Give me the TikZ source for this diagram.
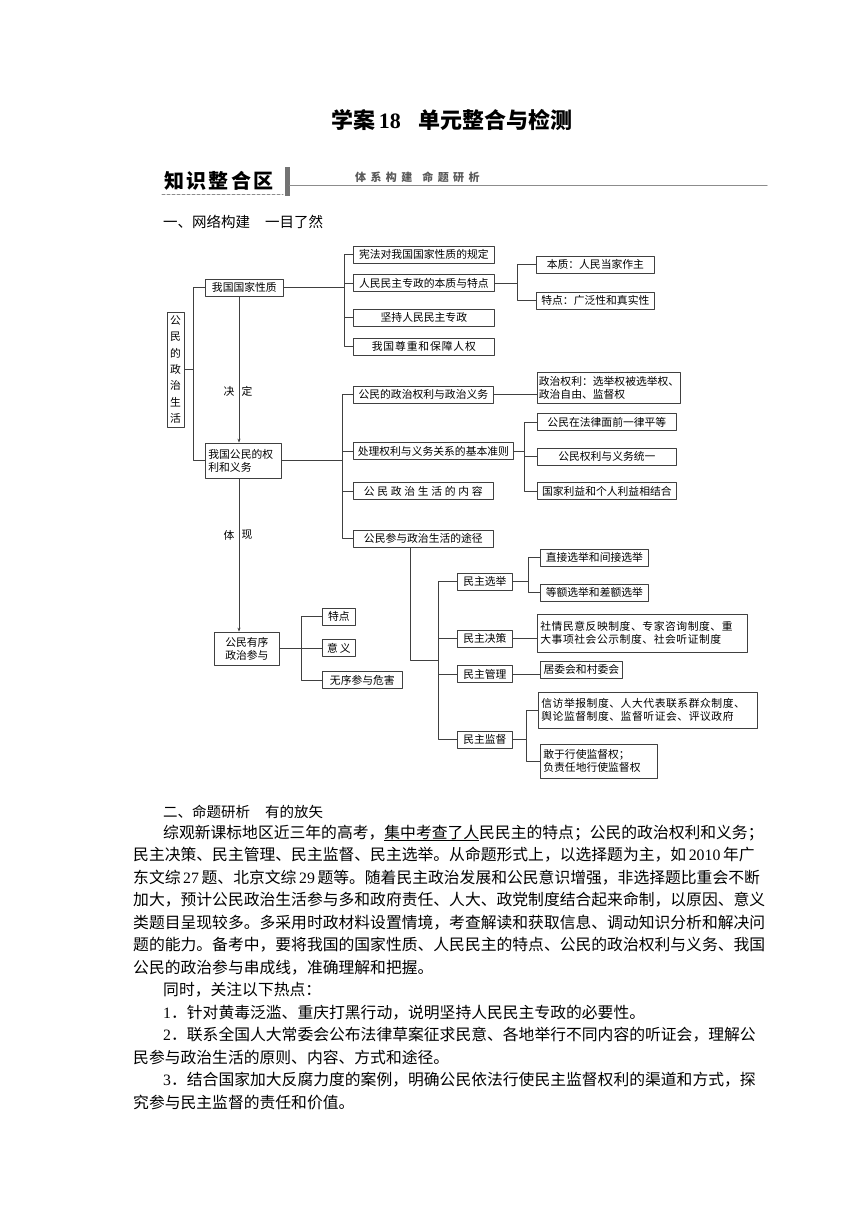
\documentclass[tikz,border=0pt]{standalone}
\usepackage{fontspec}
\setmainfont{Noto Sans CJK SC}
\newfontfamily\latinf{Liberation Serif}
\usetikzlibrary{arrows.meta}
\XeTeXlinebreakskip=0pt plus 2pt
\newcommand\lat[1]{{\latinf #1}}
\newcommand\titlefont{\fontsize{22}{26}\selectfont}
\newcommand\hdfont{\fontsize{20}{22}\selectfont}
\newcommand\smallhd{\fontsize{11}{13}\selectfont\addfontfeature{LetterSpace=40}}
\newcommand\secfont{\fontsize{14.5}{18}\selectfont}
\newcommand\boxfont{\fontsize{10.8}{13}\selectfont}
\newcommand\bodyfont{\fontsize{15.8}{22.5}\selectfont\XeTeXlinebreaklocale "zh"\relax}
\tikzset{
  kbox/.style={draw=black!75,line width=0.75pt,font=\boxfont,inner sep=1pt,anchor=west,minimum height=17pt,align=center},
  tbox/.style={kbox,align=left,inner xsep=3pt},
  wide/.style={font=\boxfont\addfontfeature{LetterSpace=#1}},
  link/.style={draw=black!75,line width=0.75pt},
  arr/.style={link,-{Stealth[length=4pt,width=3pt]}},
  bline/.style={anchor=base west,inner sep=0pt,font=\bodyfont},
}
\begin{document}
\begin{tikzpicture}[x=1pt,y=-1pt,line cap=round,line join=round]
\useasboundingbox (0,0) rectangle (860,1216);
% title and header
\node[font=\titlefont\bfseries,anchor=west,inner sep=0pt] (t1) at (331,120) {学案\,\lat{18}};
\node[font=\titlefont\bfseries,anchor=east,inner sep=0pt] (t2) at (573,120) {单元整合与检测};
\fill[black!55] (285,167) rectangle (289.5,196);
\draw[black!45,line width=1pt] (289.5,185.5) -- (767,185.5);
\draw[black!45,line width=1pt,dash pattern=on 3pt off 2pt] (162,194.5) -- (283,194.5);
\node[font=\hdfont\bfseries\addfontfeature{LetterSpace=12},anchor=west,inner sep=0pt] (hd) at (164,181) {知识整合区};
\node[font=\smallhd\bfseries,text=black!65,anchor=west,inner sep=0pt] (hs) at (355,177) {体系构建\hspace{10pt}命题研析};
\node[font=\secfont,anchor=west,inner sep=0pt] (s1) at (163,222) {一、网络构建\hspace{15pt}一目了然};

% network
\node[kbox,anchor=center,minimum width=17pt,minimum height=115pt,font=\fontsize{10.8}{16.4}\selectfont] (gm) at (175.5,369.5) {公\\民\\的\\政\\治\\生\\活};
\node[kbox,minimum width=78pt] (gx) at (205,287.5) {我国国家性质};
\node[tbox,text width=70pt,minimum height=35pt] (qy) at (205,460.5) {我国公民的权\\利和义务};
\node[kbox,minimum width=65pt,minimum height=33pt] (gp) at (214,648.5) {公民有序\\政治参与};

\node[kbox,minimum width=141pt] (xf) at (353,254.5) {宪法对我国国家性质的规定};
\node[kbox,minimum width=141pt] (rm) at (353,283) {人民民主专政的本质与特点};
\node[kbox,minimum width=141pt] (jc) at (353,317.5) {坚持人民民主专政};
\node[kbox,minimum width=141pt,wide=8] (zz) at (353,346.5) {我国尊重和保障人权};
\node[kbox,minimum width=118pt] (bz) at (536,264.5) {本质：人民当家作主};
\node[kbox,minimum width=118pt] (td1) at (536,300.5) {特点：广泛性和真实性};

\node[kbox,minimum width=140pt] (zq) at (353,394.5) {公民的政治权利与政治义务};
\node[kbox,minimum width=160pt] (cl) at (353,451) {处理权利与义务关系的基本准则};
\node[kbox,minimum width=140pt,wide=25] (nr) at (353,491) {公民政治生活的内容};
\node[kbox,minimum width=140pt] (tj) at (353,538.5) {公民参与政治生活的途径};
\node[tbox,inner xsep=1.5pt,text width=140pt,minimum height=31pt] (zl) at (537,387.5) {政治权利：选举权被选举权、\\政治自由、监督权};
\node[kbox,minimum width=139pt] (fl) at (537,422) {公民在法律面前一律平等};
\node[kbox,minimum width=139pt] (tn) at (537,456.5) {公民权利与义务统一};
\node[kbox,minimum width=139pt] (gj) at (537,491) {国家利益和个人利益相结合};

\node[kbox,minimum width=33pt] (td) at (322,616.5) {特点};
\node[kbox,minimum width=33pt] (yy) at (322,648) {意\,义};
\node[kbox,minimum width=80pt] (wx) at (322,680) {无序参与危害};

\node[kbox,minimum width=55pt] (mx) at (457,581.5) {民主选举};
\node[kbox,minimum width=55pt] (mc) at (457,638.5) {民主决策};
\node[kbox,minimum width=55pt] (mg) at (457,674) {民主管理};
\node[kbox,minimum width=55pt] (mj) at (457,739.5) {民主监督};
\node[kbox,minimum width=108pt] (zj) at (540,557.5) {直接选举和间接选举};
\node[kbox,minimum width=108pt] (de) at (540,592.5) {等额选举和差额选举};
\node[tbox,text width=204pt,minimum height=38pt,wide=5] (sq) at (537,633) {社情民意反映制度、专家咨询制度、重\\大事项社会公示制度、社会听证制度};
\node[kbox,minimum width=82pt] (jw) at (540,669.5) {居委会和村委会};
\node[tbox,text width=213pt,minimum height=36pt,wide=5] (xj) at (538,710) {信访举报制度、人大代表联系群众制度、\\舆论监督制度、监督听证会、评议政府};
\node[tbox,text width=111pt,minimum height=34pt] (gy) at (540,761) {敢于行使监督权；\\负责任地行使监督权};

% connectors
\coordinate (sp0) at ([xshift=9pt]gm.east);
\draw[link] (gm.east) -- (sp0) |- (gx.west);
\draw[link] (sp0) |- (qy.west);
\coordinate (ax) at (239,0);
\draw[arr] (gx.south -| ax) -- (qy.north -| ax);
\draw[arr] (qy.south -| ax) -- (gp.north -| ax);
\node[font=\boxfont] (jd1) at (229,391) {决};
\node[font=\boxfont] (jd2) at (247,391) {定};
\node[font=\boxfont] (tx1) at (229,535) {体};
\node[font=\boxfont] (tx2) at (247,535) {现};

\coordinate (sp1) at ([xshift=61pt]gx.east);
\foreach \c in {xf,rm,jc,zz} {\draw[link] (gx.east) -- (sp1) |- (\c.west);}
\coordinate (sp2) at ([xshift=23pt]rm.east);
\foreach \c in {bz,td1} {\draw[link] (rm.east) -- (sp2) |- (\c.west);}

\coordinate (sp3) at ([xshift=61pt]qy.east);
\foreach \c in {zq,cl,nr,tj} {\draw[link] (qy.east) -- (sp3) |- (\c.west);}
\draw[link] (zq.east) -- (zq.east -| zl.west);
\coordinate (sp4) at ([xshift=11pt]cl.east);
\foreach \c in {fl,tn,gj} {\draw[link] (cl.east) -- (sp4) |- (\c.west);}

\coordinate (sp8) at ([xshift=22pt]gp.east);
\foreach \c in {td,yy,wx} {\draw[link] (gp.east) -- (sp8) |- (\c.west);}

\coordinate (sp5) at (438,660);
\draw[link] ([xshift=-13pt]tj.south) |- (sp5);
\foreach \c in {mx,mc,mg,mj} {\draw[link] (sp5) |- (\c.west);}
\coordinate (sp6) at ([xshift=16pt]mx.east);
\foreach \c in {zj,de} {\draw[link] (mx.east) -- (sp6) |- (\c.west);}
\draw[link] (mc.east) -- (mc.east -| sq.west);
\draw[link] (mg.east) -- (mg.east -| jw.west);
\coordinate (sp7) at ([xshift=14pt]mj.east);
\foreach \c in {xj,gy} {\draw[link] (mj.east) -- (sp7) |- (\c.west);}

% text
\node[font=\secfont,anchor=west,inner sep=0pt] (s2) at (163,812) {二、命题研析\hspace{15pt}有的放矢};
\node[bline] (l1) at (163,838) {\makebox[602pt][s]{综观新课标地区近三年的高考，\underline{集中考查了人}民民主的特点；公民的政治权利和义务；}};
\node[bline] (l2) at (133,860.5) {\makebox[632pt][s]{民主决策、民主管理、民主监督、民主选举。从命题形式上，以选择题为主，如\,\lat{2010}\,年广}};
\node[bline] (l3) at (133,883) {\makebox[632pt][s]{东文综\,\lat{27}\,题、北京文综\,\lat{29}\,题等。随着民主政治发展和公民意识增强，非选择题比重会不断}};
\node[bline] (l4) at (133,905.5) {\makebox[632pt][s]{加大，预计公民政治生活参与多和政府责任、人大、政党制度结合起来命制，以原因、意义}};
\node[bline] (l5) at (133,928) {\makebox[632pt][s]{类题目呈现较多。多采用时政材料设置情境，考查解读和获取信息、调动知识分析和解决问}};
\node[bline] (l6) at (133,950.5) {\makebox[632pt][s]{题的能力。备考中，要将我国的国家性质、人民民主的特点、公民的政治权利与义务、我国}};
\node[bline] (l7) at (133,973) {公民的政治参与串成线，准确理解和把握。};
\node[bline] (l8) at (163,995.5) {同时，关注以下热点：};
\node[bline] (l9) at (163,1018) {\lat{1}．针对黄毒泛滥、重庆打黑行动，说明坚持人民民主专政的必要性。};
\node[bline] (l10) at (163,1040.5) {\makebox[602pt][s]{\lat{2}．联系全国人大常委会公布法律草案征求民意、各地举行不同内容的听证会，理解公}};
\node[bline] (l11) at (133,1063) {民参与政治生活的原则、内容、方式和途径。};
\node[bline] (l12) at (163,1085.5) {\makebox[602pt][s]{\lat{3}．结合国家加大反腐力度的案例，明确公民依法行使民主监督权利的渠道和方式，探}};
\node[bline] (l13) at (133,1108) {究参与民主监督的责任和价值。};
\end{tikzpicture}
\end{document}
